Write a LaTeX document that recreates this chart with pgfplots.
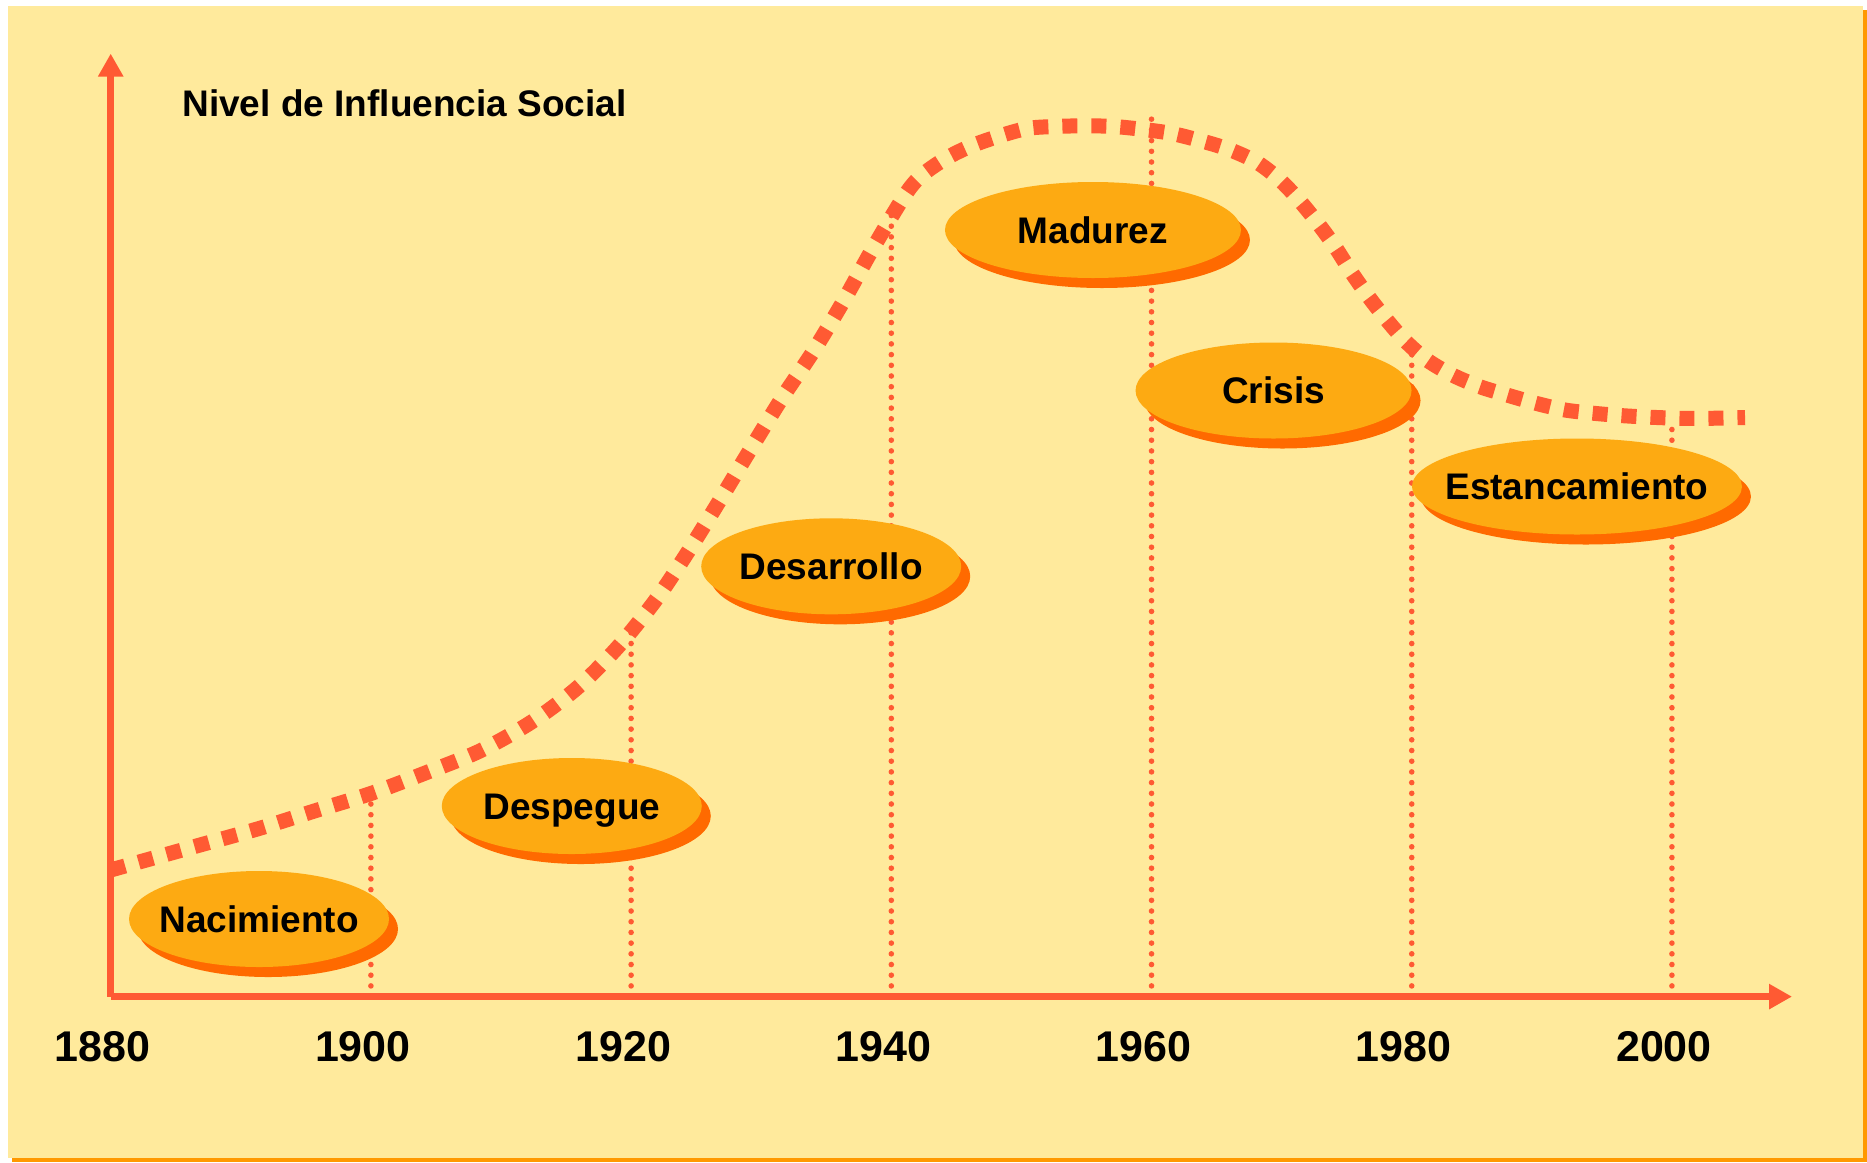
\documentclass[border=0pt]{standalone}
\usepackage{pgfplots}
\pgfplotsset{compat=1.18}
\usepackage{fontspec}
\setmainfont{Liberation Sans}
\usetikzlibrary{arrows.meta}
\definecolor{bgcol}{HTML}{FFEA9C}
\definecolor{bordercol}{HTML}{FF9900}
\definecolor{curvecol}{HTML}{FF5A33}
\definecolor{ellcol}{HTML}{FDAA12}
\definecolor{shadowcol}{HTML}{FF6A00}

\pgfplotstableread{
year level
1880.00 12.66
1882.74 13.66
1887.14 15.26
1891.45 16.83
1895.73 18.59
1900.04 20.33
1904.24 22.39
1908.42 24.59
1912.38 27.49
1915.96 30.99
1919.12 35.16
1921.99 39.84
1924.37 44.48
1926.83 49.66
1929.14 54.66
1931.60 59.86
1933.98 64.48
1936.29 69.48
1938.51 74.66
1940.90 79.86
1942.20 81.98
1944.12 83.76
1946.04 85.01
1948.19 86.01
1950.42 86.81
1952.57 87.01
1954.88 87.08
1957.11 87.01
1959.41 86.71
1961.57 86.31
1963.72 85.61
1965.87 84.76
1968.03 83.49
1969.79 81.76
1971.33 79.66
1972.79 77.33
1974.10 74.99
1975.33 72.49
1976.64 70.06
1978.02 67.76
1979.48 65.59
1981.17 63.66
1983.17 62.13
1985.24 60.99
1987.32 60.16
1989.55 59.33
1991.78 58.66
1994.01 58.33
1996.24 58.09
1998.47 57.93
2000.70 57.83
2002.93 57.83
2005.62 57.91
}\curvedata

\newcommand{\phase}[4]{% year, level, half-width (pt), text
  \fill[shadowcol] (axis cs:#1,#2) ++(4.5pt,-5pt) ellipse [x radius=#3, y radius=24pt];
  \fill[ellcol] (axis cs:#1,#2) ellipse [x radius=#3, y radius=24pt];
  \node[anchor=center, inner sep=0pt, text height=13.25pt, text depth=0pt,
        font=\bfseries\fontsize{18.5pt}{22pt}\selectfont] at (axis cs:#1,#2) {#4};
}

\begin{document}
\begin{tikzpicture}
\useasboundingbox (0,0) rectangle (933.5pt,-581pt);
\fill[bordercol] (6pt,-5pt) rectangle (933.5pt,-581pt);
\fill[bgcol] (4pt,-3pt) rectangle (931.5pt,-579pt);
\node[anchor=base west, inner sep=0pt, font=\bfseries\fontsize{18.5pt}{22pt}\selectfont]
  at (91pt,-58pt) {Nivel de Influencia Social};
\begin{axis}[
  at={(55.35pt,-498.3pt)}, anchor=south west,
  scale only axis, width=840.65pt, height=471.5pt,
  xmin=1880, xmax=2009.23, ymin=0, ymax=94.3,
  enlargelimits=false, clip=false,
  axis lines=left,
  axis line style={draw=curvecol, line width=3.75pt},
  x axis line style={-{Triangle[width=12pt,length=11.5pt]}},
  y axis line style={-{Triangle[width=12pt,length=11.5pt]}},
  xtick={1880,1900,1920,1940,1960,1980,2000},
  xticklabels={1880,1900,1920,1940,1960,1980,2000},
  ytick=\empty,
  major tick length=0pt,
  xticklabel style={anchor=base, inner sep=0pt, yshift=-32.5pt, xshift=-4pt,
    font=\bfseries\fontsize{21.5pt}{24pt}\selectfont},
]
\addplot[curvecol, line width=2.8pt, line cap=round, dash pattern=on 0pt off 5.35pt] coordinates {(1900,0) (1900,20.06)};
\addplot[curvecol, line width=2.8pt, line cap=round, dash pattern=on 0pt off 5.35pt] coordinates {(1920,0) (1920,36.86)};
\addplot[curvecol, line width=2.8pt, line cap=round, dash pattern=on 0pt off 5.35pt] coordinates {(1940,0) (1940,78.26)};
\addplot[curvecol, line width=2.8pt, line cap=round, dash pattern=on 0pt off 5.35pt] coordinates {(1960,0) (1960,87.96)};
\addplot[curvecol, line width=2.8pt, line cap=round, dash pattern=on 0pt off 5.35pt] coordinates {(1980,0) (1980,64.66)};
\addplot[curvecol, line width=2.8pt, line cap=round, dash pattern=on 0pt off 5.35pt] coordinates {(2000,0) (2000,57.56)};

\phase{1891.40}{7.76}{65pt}{Nacimiento}
\phase{1915.44}{19.06}{65pt}{Despegue}
\phase{1935.38}{43.03}{65pt}{Desarrollo}
\phase{1955.50}{76.66}{74pt}{Madurez}
\phase{1969.38}{60.61}{69pt}{Crisis}
\phase{1992.70}{51.01}{82.5pt}{Estancamiento}

\addplot[curvecol, line width=7.5pt, dash pattern=on 7.5pt off 7pt, smooth, no markers] table[x=year, y=level] {\curvedata};
\end{axis}
\end{tikzpicture}
\end{document}
